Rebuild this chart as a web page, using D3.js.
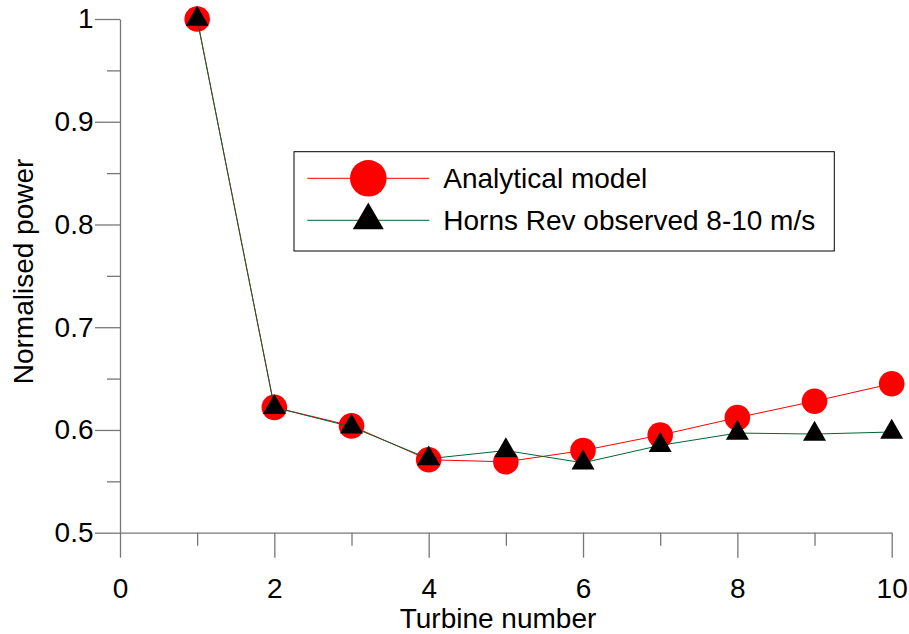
<!DOCTYPE html>
<html>
<head>
<meta charset="utf-8">
<script src="https://cdn.jsdelivr.net/npm/d3@7"></script>
<style>
  body { margin: 0; background: #fff; }
  svg text { font-family: "Liberation Sans", Arial, sans-serif; fill: #000; }
</style>
</head>
<body>
<script>

// ================================ data
var turbines = [1, 2, 3, 4, 5, 6, 7, 8, 9, 10];
var analytical = [1.0, 0.622, 0.604, 0.571, 0.569, 0.580, 0.595, 0.612, 0.628, 0.645];
var observed = [1.0, 0.622, 0.603, 0.572, 0.580, 0.568, 0.585, 0.597, 0.596, 0.598];

var xTicks = [0, 2, 4, 6, 8, 10];
var xMinor = [1, 3, 5, 7, 9];
var yTicks = [0.5, 0.6, 0.7, 0.8, 0.9, 1];
var yMinor = [0.55, 0.65, 0.75, 0.85, 0.95];

var seriesNames = ["Analytical model", "Horns Rev observed 8-10 m/s"];

// ================================ sizes
var svgWidth = 909;
var svgHeight = 634;

var chartMargin = {
  top: 19,
  right: 17.3,
  bottom: 101.3,
  left: 120
};

var chartWidth = svgWidth - chartMargin.left - chartMargin.right;
var chartHeight = svgHeight - chartMargin.top - chartMargin.bottom;

var axisColor = "#777";
var fontSize = 28;

var svg = d3.select("body")
  .append("svg")
  .attr("width", svgWidth)
  .attr("height", svgHeight);

var chartGroup = svg.append("g")
  .attr("transform", `translate(${chartMargin.left}, ${chartMargin.top})`);

var xScale = d3.scaleLinear()
  .domain([0, 10])
  .range([0, chartWidth]);

var yScale = d3.scaleLinear()
  .domain([0.5, 1])
  .range([chartHeight, 0]);

// minor ticks first (no labels)
chartGroup.append("g")
  .attr("transform", `translate(0, ${chartHeight})`)
  .call(d3.axisBottom(xScale).tickValues(xMinor).tickSize(13).tickFormat(""))
  .call(g => g.select(".domain").remove());

chartGroup.append("g")
  .call(d3.axisLeft(yScale).tickValues(yMinor).tickSize(13).tickFormat(""))
  .call(g => g.select(".domain").remove());

// major axes
var bottomAxis = d3.axisBottom(xScale)
  .tickValues(xTicks)
  .tickSize(25)
  .tickSizeOuter(0)
  .tickPadding(20.5)
  .tickFormat(d3.format("d"));

var leftAxis = d3.axisLeft(yScale)
  .tickValues(yTicks)
  .tickSize(25)
  .tickSizeOuter(0)
  .tickPadding(1.5)
  .tickFormat(d => d === 1 ? "1" : d3.format(".1f")(d));

chartGroup.append("g")
  .attr("transform", `translate(0, ${chartHeight})`)
  .call(bottomAxis);

chartGroup.append("g")
  .call(leftAxis);

chartGroup.selectAll(".domain, .tick line")
  .attr("stroke", axisColor)
  .attr("stroke-width", 1.3);

chartGroup.selectAll(".tick text")
  .style("font-size", fontSize + "px")
  .attr("fill", "#000");

// axis titles
svg.append("text")
  .attr("x", 498)
  .attr("y", 628)
  .attr("text-anchor", "middle")
  .style("font-size", fontSize + "px")
  .text("Turbine number");

svg.append("text")
  .attr("transform", "translate(33.3, 271.5) rotate(-90)")
  .attr("text-anchor", "middle")
  .style("font-size", fontSize + "px")
  .text("Normalised power");

// ================================ series
var seriesLine = d3.line()
  .x((d, i) => xScale(turbines[i]))
  .y(d => yScale(d));

var triangle = d3.symbol().type(d3.symbolTriangle).size(229);
var triangleBig = d3.symbol().type(d3.symbolTriangle).size(416);

chartGroup.append("path")
  .datum(analytical)
  .attr("fill", "none")
  .attr("stroke", "#ff0000")
  .attr("stroke-width", 1)
  .attr("d", seriesLine);

chartGroup.selectAll(".circ")
  .data(analytical)
  .enter()
  .append("circle")
  .attr("class", "circ")
  .attr("cx", (d, i) => xScale(turbines[i]))
  .attr("cy", d => yScale(d))
  .attr("r", 12.8)
  .attr("fill", "#ff0000");

chartGroup.append("path")
  .datum(observed)
  .attr("fill", "none")
  .attr("stroke", "#006633")
  .attr("stroke-width", 1)
  .attr("d", seriesLine);

chartGroup.selectAll(".tri")
  .data(observed)
  .enter()
  .append("path")
  .attr("class", "tri")
  .attr("transform", (d, i) => `translate(${xScale(turbines[i])}, ${yScale(d)})`)
  .attr("d", triangle)
  .attr("fill", "#000");

// ================================ legend
var legend = svg.append("g");

legend.append("rect")
  .attr("x", 294)
  .attr("y", 151.7)
  .attr("width", 540.3)
  .attr("height", 99.3)
  .attr("fill", "#fff")
  .attr("stroke", "#000")
  .attr("stroke-width", 1);

var legendRows = [
  { name: seriesNames[0], color: "#ff0000", y: 178.3 },
  { name: seriesNames[1], color: "#006633", y: 220.3 }
];

legendRows.forEach(function (row, i) {
  legend.append("line")
    .attr("x1", 307.3)
    .attr("x2", 429.3)
    .attr("y1", row.y)
    .attr("y2", row.y)
    .attr("stroke", row.color)
    .attr("stroke-width", 1);

  if (i === 0) {
    legend.append("circle")
      .attr("cx", 368.3)
      .attr("cy", row.y)
      .attr("r", 18.3)
      .attr("fill", "#ff0000");
  } else {
    legend.append("path")
      .attr("transform", `translate(368.3, ${row.y})`)
      .attr("d", triangleBig)
      .attr("fill", "#000");
  }

  legend.append("text")
    .attr("x", 443.3)
    .attr("y", row.y + 10)
    .style("font-size", fontSize + "px")
    .text(row.name);
});

</script>
</body>
</html>
